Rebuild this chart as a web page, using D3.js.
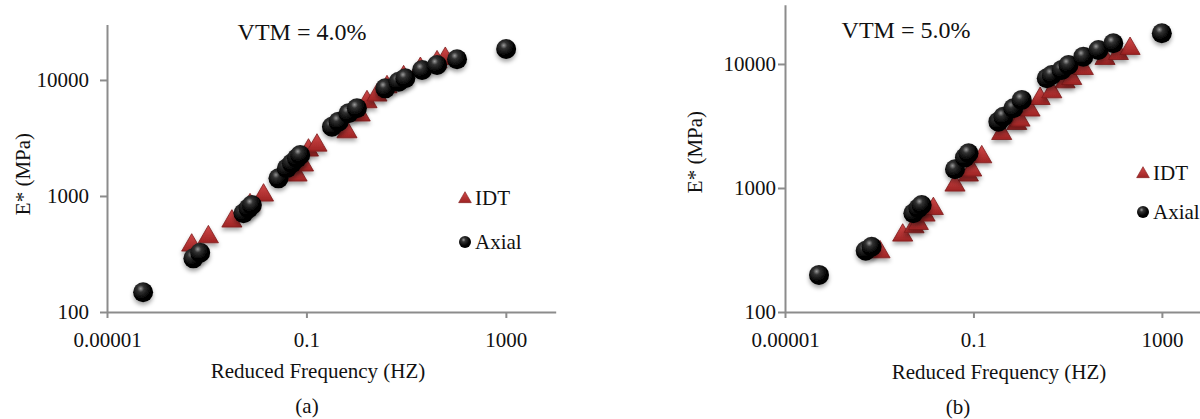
<!DOCTYPE html>
<html>
<head>
<meta charset="utf-8">
<script src="https://cdn.jsdelivr.net/npm/d3@7"></script>
<style>
  body { margin: 0; background: #fff; }
  text { font-family: "Liberation Serif", "Times New Roman", serif; fill: #111; }
  .axis path, .axis line { stroke: #8c8c8c; stroke-width: 2; }
</style>
</head>
<body>
<svg width="1200" height="419"></svg>
<script>
// panel (a) VTM = 4.0%
const idtFreqA = [5.0e-4, 1.08e-3, 3.2e-3, 7.4e-3, 0.0138, 0.065, 0.0875, 0.11, 0.163, 0.65, 1.2, 1.64, 2.6, 4.13, 8.9, 19.3, 41.7, 61];
const idtModA  = [391, 461, 630, 870, 1055, 1570, 1915, 2577, 2843, 3706, 5170, 6730, 7680, 9060, 11040, 13030, 14860, 15900];
const axialFreqA = [5.3e-5, 5.4e-4, 7.4e-4, 5.46e-3, 6.9e-3, 8.05e-3, 0.0275, 0.0405, 0.0511, 0.0645, 0.075, 0.325, 0.442, 0.70, 1.03, 3.82, 7.07, 9.63, 20.9, 41.7, 105, 1014];
const axialModA  = [148, 290, 324, 710, 783, 836, 1419, 1733, 1915, 2115, 2255, 3954, 4368, 5166, 5700, 8470, 9660, 10350, 12190, 13460, 15070, 18490];

// panel (b) VTM = 5.0%
const idtFreqB = [1.04e-3, 3.15e-3, 5.48e-3, 6.76e-3, 9.4e-3, 0.0141, 0.0406, 0.078, 0.092, 0.15, 0.398, 0.83, 0.975, 1.59, 2.6, 4.6, 8.8, 12.2, 21.5, 62, 119, 211];
const idtModB  = [316, 431, 503, 535, 625, 706, 1091, 1315, 1443, 1845, 2845, 3427, 3646, 4395, 5445, 6170, 7430, 7900, 9500, 11460, 12560, 13800];
const axialFreqB = [5.27e-5, 5.16e-4, 6.9e-4, 5.3e-3, 6.76e-3, 7.97e-3, 0.0406, 0.066, 0.0787, 0.338, 0.431, 0.703, 1.06, 3.6, 4.6, 7.5, 10.4, 21.5, 44.9, 93, 996];
const axialModB  = [199, 312, 336, 625, 686, 729, 1416, 1760, 1905, 3427, 3757, 4395, 5130, 7670, 8150, 8950, 9820, 11460, 12970, 14690, 17700];

const xTicks = [1e-5, 0.1, 1000];
const xTickLabels = ["0.00001", "0.1", "1000"];
const yTicks = [100, 1000, 10000];
const yTickLabels = ["100", "1000", "10000"];
const seriesNames = ["IDT", "Axial"];
const titles = ["VTM = 4.0%", "VTM = 5.0%"];
const captions = ["(a)", "(b)"];

const svg = d3.select("svg");
const defs = svg.append("defs");

const ball = defs.append("radialGradient").attr("id", "ball")
  .attr("cx", "38%").attr("cy", "32%").attr("r", "68%");
ball.append("stop").attr("offset", "0%").attr("stop-color", "#9a9a9a");
ball.append("stop").attr("offset", "25%").attr("stop-color", "#333");
ball.append("stop").attr("offset", "70%").attr("stop-color", "#050505");
ball.append("stop").attr("offset", "100%").attr("stop-color", "#000");

const tri = defs.append("linearGradient").attr("id", "tri")
  .attr("x1", 0).attr("y1", 0).attr("x2", 0).attr("y2", 1);
tri.append("stop").attr("offset", "0%").attr("stop-color", "#d04848");
tri.append("stop").attr("offset", "100%").attr("stop-color", "#9e2424");

const shadow = defs.append("filter").attr("id", "shadow")
  .attr("x", "-50%").attr("y", "-50%").attr("width", "200%").attr("height", "220%");
shadow.append("feDropShadow").attr("dx", 0).attr("dy", 3).attr("stdDeviation", 2)
  .attr("flood-color", "#000").attr("flood-opacity", 0.35);

const panels = [
  {
    left: 107, right: 555.7, top: 24.6, bottom: 312,
    idt: [idtFreqA, idtModA], axial: [axialFreqA, axialModA],
    yPad: 11, yTitle: [23, 174], xTitle: [318, 378], caption: [307, 413],
    title: [302, 40], legend: [465, 198, 242]
  },
  {
    left: 785, right: 1209, top: 4.8, bottom: 312,
    idt: [idtFreqB, idtModB], axial: [axialFreqB, axialModB],
    yPad: 2, yTitle: [695, 152], xTitle: [999, 379], caption: [958, 414],
    title: [906, 38], legend: [1143, 173, 212]
  }
];

const triangle = d3.symbol(d3.symbolTriangle, 175);
const smallTriangle = d3.symbol(d3.symbolTriangle, 70);

panels.forEach((p, k) => {
  const x = d3.scaleLog().domain([1e-5, 1e4]).range([p.left, p.right]);
  const y = d3.scaleLog().domain([100, 30000]).range([p.bottom, p.top]);

  const g = svg.append("g");

  g.append("g").attr("class", "axis")
    .attr("transform", "translate(0," + p.bottom + ")")
    .call(d3.axisBottom(x).tickValues(xTicks).tickSize(6).tickSizeOuter(0).tickPadding(14)
      .tickFormat((d, i) => xTickLabels[i]))
    .call(a => a.selectAll("text").attr("font-size", 21).attr("fill", "#111")
      .style("font-family", '"Liberation Serif", serif'));

  g.append("g").attr("class", "axis")
    .attr("transform", "translate(" + p.left + ",0)")
    .call(d3.axisLeft(y).tickValues(yTicks).tickSize(7).tickSizeOuter(0).tickPadding(p.yPad)
      .tickFormat((d, i) => yTickLabels[i]))
    .call(a => a.selectAll("text").attr("font-size", 21).attr("fill", "#111")
      .style("font-family", '"Liberation Serif", serif'));

  const idtPts = p.idt[0].map((f, i) => [f, p.idt[1][i]]);
  const axialPts = p.axial[0].map((f, i) => [f, p.axial[1][i]]);

  g.append("g").selectAll("path").data(idtPts).join("path")
    .attr("d", triangle)
    .attr("transform", d => "translate(" + x(d[0]) + "," + (y(d[1]) + 2) + ")")
    .attr("fill", "url(#tri)").attr("stroke", "#7e1a1a").attr("stroke-width", 0.8)
    .attr("filter", "url(#shadow)");

  g.append("g").selectAll("circle").data(axialPts).join("circle")
    .attr("cx", d => x(d[0])).attr("cy", d => y(d[1])).attr("r", 10)
    .attr("fill", "url(#ball)")
    .attr("filter", "url(#shadow)");

  g.append("text").attr("x", p.title[0]).attr("y", p.title[1])
    .attr("text-anchor", "middle").attr("font-size", 24).text(titles[k]);

  g.append("text").attr("x", p.xTitle[0]).attr("y", p.xTitle[1])
    .attr("text-anchor", "middle").attr("font-size", 21).text("Reduced Frequency (HZ)");

  g.append("text")
    .attr("transform", "translate(" + p.yTitle[0] + "," + p.yTitle[1] + ") rotate(-90)")
    .attr("text-anchor", "middle").attr("dy", "0.35em").attr("font-size", 21).text("E* (MPa)");

  g.append("text").attr("x", p.caption[0]).attr("y", p.caption[1])
    .attr("text-anchor", "middle").attr("font-size", 21).text(captions[k]);

  // legend
  const [lx, ly1, ly2] = p.legend;
  g.append("path").attr("d", smallTriangle)
    .attr("transform", "translate(" + lx + "," + (ly1 + 1) + ")")
    .attr("fill", "url(#tri)").attr("stroke", "#7e1a1a").attr("stroke-width", 0.6);
  g.append("circle").attr("cx", lx).attr("cy", ly2).attr("r", 6).attr("fill", "url(#ball)");
  g.append("text").attr("x", lx + 10).attr("y", ly1).attr("dy", "0.35em")
    .attr("font-size", 21).text(seriesNames[0]);
  g.append("text").attr("x", lx + 10).attr("y", ly2).attr("dy", "0.35em")
    .attr("font-size", 21).text(seriesNames[1]);
});
</script>
</body>
</html>
